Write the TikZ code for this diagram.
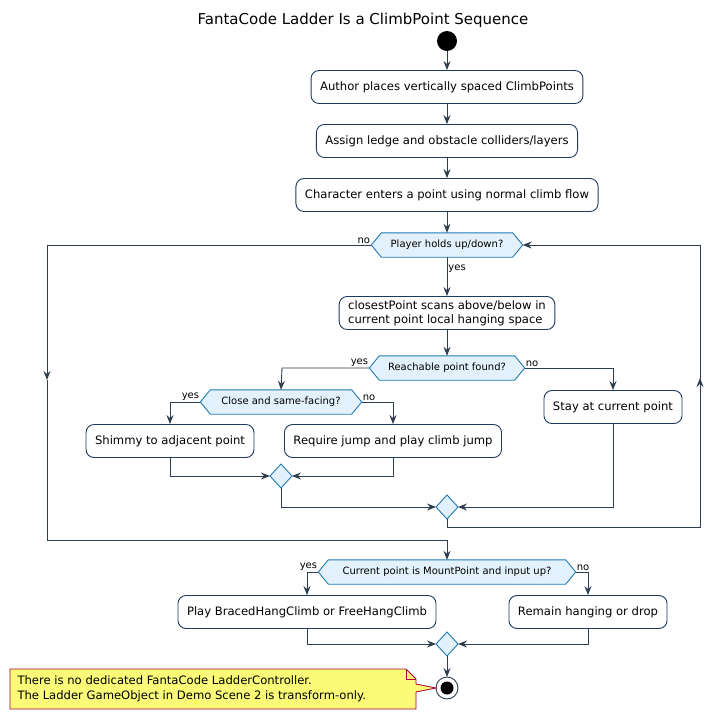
\documentclass[tikz,border=0pt]{standalone}
\usepackage{fontspec}
\setmainfont{DejaVu Sans}
\usetikzlibrary{positioning}
\usetikzlibrary{calc}
\usetikzlibrary{arrows.meta}
\definecolor{edge}{HTML}{2F3E50}
\definecolor{boxline}{HTML}{1E3A5F}
\definecolor{decline}{HTML}{1F7AB0}
\definecolor{decfill}{HTML}{E2F1FB}
\definecolor{notefill}{HTML}{FBFB77}
\definecolor{noteline}{HTML}{A80036}
\tikzset{
  act/.style={draw=boxline, fill=white, rounded corners=8pt, line width=0.9pt,
    font=\fontsize{11.6}{14}\selectfont, inner xsep=9pt, minimum height=33pt, align=left},
  dec/.style={inner xsep=2pt, inner ysep=0pt, minimum height=24pt, font=\fontsize{10}{12}\selectfont},
  lbl/.style={font=\fontsize{10}{12}\selectfont, inner sep=1pt},
  flow/.style={draw=edge, line width=0.9pt, -{Stealth[length=9pt,width=7pt,inset=3pt]}},
  line/.style={draw=edge, line width=0.9pt},
}
\newcommand{\hexa}[1]{%
  \draw[draw=decline, fill=decfill, line width=0.9pt]
    (#1.west) -- ($(#1.north west)+(10,0)$) -- ($(#1.north east)+(-10,0)$)
    -- (#1.east) -- ($(#1.south east)+(-10,0)$) -- ($(#1.south west)+(10,0)$) -- cycle;}
\newcommand{\merge}[2]{%
  \draw[draw=decline, fill=decfill, line width=0.9pt]
    ($#2+(-11,0)$) -- ($#2+(0,-12)$) -- ($#2+(11,0)$) -- ($#2+(0,12)$) -- cycle;
  \coordinate (#1) at #2;}
\begin{document}
\begin{tikzpicture}[x=1pt,y=-1pt]
\useasboundingbox (0,0) rectangle (726,720);
\node[font=\fontsize{15}{18}\selectfont] (title) at (363,20) {FantaCode Ladder Is a ClimbPoint Sequence};
\fill (447,41) circle (10) coordinate (start);

\node[act] (place) at (447,87) {Author places vertically spaced ClimbPoints};
\node[act] (assign) at (447,141) {Assign ledge and obstacle colliders/layers};
\node[act] (enter) at (447,195) {Character enters a point using normal climb flow};

\node[dec, minimum width=151pt] (holds) at (447,245) {};
\hexa{holds}
\node[dec] at (holds) {Player holds up/down?};
\node[act] (scan) at (447,313) {closestPoint scans above/below in\\current point local hanging space};
\node[dec, minimum width=155pt] (found) at (447,368) {};
\hexa{found}
\node[dec] at (found) {Reachable point found?};
\node[dec, minimum width=161pt] (close) at (281,402) {};
\hexa{close}
\node[dec] at (close) {Close and same-facing?};
\node[act] (stay) at (613,407) {Stay at current point};
\node[act] (shimmy) at (170,441) {Shimmy to adjacent point};
\node[act] (jump) at (393,441) {Require jump and play climb jump};
\merge{mjump}{(281,476)}
\merge{mfound}{(447,507)}
\node[dec, minimum width=257pt] (mount) at (447,572) {};
\hexa{mount}
\node[dec] at (mount) {Current point is MountPoint and input up?};
\node[act] (braced) at (307,612) {Play BracedHangClimb or FreeHangClimb};
\node[act] (remain) at (588,612) {Remain hanging or drop};
\merge{mmount}{(447,644)}

\filldraw[draw=edge, fill=white, line width=0.9pt] (447,688) circle (11);
\fill (447,688) circle (6.5);
\coordinate (stop) at (447,688);

% note
\draw[draw=noteline, fill=notefill, line width=0.8pt]
  (10,669) -- (406,669) -- (416,679) -- (416,684) -- (436,688) -- (416,692)
  -- (416,709) -- (10,709) -- cycle;
\draw[draw=noteline, line width=0.8pt] (406,669) -- (406,679) -- (416,679);
\node[font=\fontsize{11.6}{15}\selectfont, align=left, anchor=west] (note) at (14,689)
  {There is no dedicated FantaCode LadderController.\\The Ladder GameObject in Demo Scene 2 is transform-only.};

% flow
\draw[flow] (start) ++(0,10) -- (place.north);
\draw[flow] (place) -- (assign);
\draw[flow] (assign) -- (enter);
\draw[flow] (enter) -- (holds.north);
\draw[flow] (holds.south) -- (scan.north) node[lbl, pos=0.3, right] {yes};
\draw[flow] (scan) -- (found.north);
\draw[flow] (found.west) -- (282,368) -- (close.north);
\draw[flow] (found.east) -- (613,368) -- (stay.north);
\node[lbl, anchor=south east] at (found.west) {yes};
\node[lbl, anchor=south west] at (found.east) {no};
\draw[flow] (close.west) -- (170,402) -- (shimmy.north);
\draw[flow] (close.east) -- (393,402) -- (jump.north);
\node[lbl, anchor=south east] at (close.west) {yes};
\node[lbl, anchor=south west] at (close.east) {no};
\draw[flow] (shimmy.south) -- (170,476) -- ($(mjump)+(-11,0)$);
\draw[flow] (jump.south) -- (393,476) -- ($(mjump)+(11,0)$);
\draw[flow] ($(mjump)+(0,12)$) -- (281,507) -- ($(mfound)+(-11,0)$);
\draw[flow] (stay.south) -- (613,507) -- ($(mfound)+(11,0)$);
% loop back
\draw[line] (mfound) ++(0,12) -- (447,527) -- (700,527) -- (700,245);
\draw[flow] (700,527) -- (700,378);
\draw[flow] (700,245) -- (holds.east);
% exit
\draw[flow] (holds.west) -- (47,245) -- (47,380);
\draw[line] (47,380) -- (47,540) -- (447,540);
\node[lbl, anchor=south east] at (holds.west) {no};
\draw[flow] (447,540) -- (mount.north);
\draw[flow] (mount.west) -- (307,572) -- (braced.north);
\draw[flow] (mount.east) -- (588,572) -- (remain.north);
\node[lbl, anchor=south east] at (mount.west) {yes};
\node[lbl, anchor=south west] at (mount.east) {no};
\draw[flow] (braced.south) -- (307,644) -- ($(mmount)+(-11,0)$);
\draw[flow] (remain.south) -- (588,644) -- ($(mmount)+(11,0)$);
\draw[flow] ($(mmount)+(0,12)$) -- ($(stop)+(0,-11)$);
\end{tikzpicture}
\end{document}
